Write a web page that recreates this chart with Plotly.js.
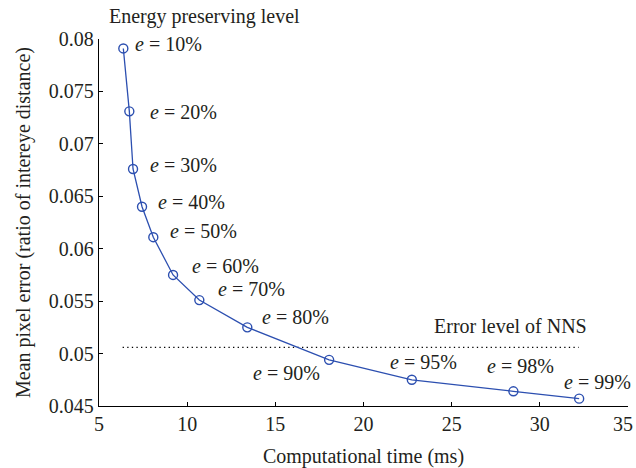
<!DOCTYPE html>
<html>
<head>
<meta charset="utf-8">
<script src="https://cdn.plot.ly/plotly-3.0.1.min.js"></script>
<style>html,body{margin:0;padding:0;background:#fff;}#chart{width:636px;height:468px;}</style>
</head>
<body>
<div id="chart"></div>
<script>
// Data
const energyLevels = ["10%", "20%", "30%", "40%", "50%", "60%", "70%", "80%", "90%", "95%", "98%", "99%"];
const timeMs = [6.38, 6.72, 6.93, 7.44, 8.08, 9.20, 10.69, 13.41, 18.05, 22.74, 28.50, 32.23];
const meanError = [0.0791, 0.0731, 0.0676, 0.0640, 0.0611, 0.0575, 0.0551, 0.0525, 0.0494, 0.0475, 0.0464, 0.0457];
const nnsLevel = 0.0506;
const nnsRange = [6.34, 32.2];
const xTicks = [5, 10, 15, 20, 25, 30, 35];
const yTicks = [0.045, 0.05, 0.055, 0.06, 0.065, 0.07, 0.075, 0.08];

// Label placement (pixel offsets from each point) -- styling only
const labelOffsets = [
  {dx: 10, dy: 4, anchor: "left"},
  {dx: 19, dy: -1, anchor: "left"},
  {dx: 15, dy: 4, anchor: "left"},
  {dx: 14, dy: 5, anchor: "left"},
  {dx: 15, dy: 6, anchor: "left"},
  {dx: 17, dy: 9, anchor: "left"},
  {dx: 17, dy: 11, anchor: "left"},
  {dx: 13, dy: 10, anchor: "left"},
  {dx: -7, dy: -13, anchor: "right"},
  {dx: -24, dy: 18, anchor: "left"},
  {dx: -28, dy: 25, anchor: "left"},
  {dx: -17, dy: 17, anchor: "left"}
];

const FONT = "Liberation Serif, Times New Roman, serif";
const FS = 20;
const TXT = "#231f20";
const BLUE = "#2c4fb0";

const traces = [
  {
    x: nnsRange, y: [nnsLevel, nnsLevel], mode: "lines",
    line: {color: "#000", width: 1.3, dash: "1.3px,3.3px"}, hoverinfo: "skip", showlegend: false
  },
  {
    x: timeMs, y: meanError, mode: "lines+markers",
    line: {color: BLUE, width: 1.3},
    marker: {symbol: "circle-open", size: 9, color: BLUE, line: {width: 1.4, color: BLUE}},
    showlegend: false
  }
];

const annotations = energyLevels.map((lv, i) => ({
  x: timeMs[i], y: meanError[i], xref: "x", yref: "y",
  text: "<i>e</i> = " + lv, showarrow: false,
  xanchor: labelOffsets[i].anchor, yanchor: "middle",
  xshift: labelOffsets[i].dx, yshift: labelOffsets[i].dy,
  font: {family: FONT, size: FS, color: TXT}
}));
annotations.push({
  xref: "paper", yref: "paper", x: 0.015, y: 1, xanchor: "left", yanchor: "bottom", yshift: 9,
  text: "Energy preserving level", showarrow: false, font: {family: FONT, size: FS, color: TXT}
});
annotations.push({
  xref: "paper", yref: "paper", x: 0.63, y: 0.218, xanchor: "left", yanchor: "middle",
  text: "Error level of NNS", showarrow: false, font: {family: FONT, size: FS, color: TXT}
});

// last x tick label drawn as an annotation kept inside the page edge
const lastX = xTicks[xTicks.length - 1];
annotations.push({
  xref: "x", yref: "paper", x: lastX, y: 0, xanchor: "right", yanchor: "top",
  xshift: 7, yshift: -5,
  text: String(lastX), showarrow: false, font: {family: FONT, size: FS, color: TXT}
});
const xTickText = xTicks.map((v, i) => i === xTicks.length - 1 ? "" : String(v));

const layout = {
  width: 636, height: 468,
  margin: {l: 99, r: 8, t: 39, b: 62},
  paper_bgcolor: "#fff", plot_bgcolor: "#fff",
  font: {family: FONT, size: FS, color: TXT},
  xaxis: {
    range: [5, 35], tickvals: xTicks, ticktext: xTickText,
    showline: true, linecolor: "#000", linewidth: 1.3, mirror: false,
    ticks: "inside", ticklen: 4, tickcolor: "#000", tickwidth: 1.2,
    ticklabeloverflow: "allow",
    showgrid: false, zeroline: false,
    title: {text: "Computational time (ms)", font: {family: FONT, size: FS}, standoff: 14}
  },
  yaxis: {
    range: [0.045, 0.08], tickvals: yTicks, ticktext: yTicks.map(v => String(v)),
    showline: true, linecolor: "#000", linewidth: 1.3, mirror: false,
    ticks: "inside", ticklen: 4, tickcolor: "#000", tickwidth: 1.2,
    ticklabeloverflow: "allow",
    showgrid: false, zeroline: false,
    title: {text: "Mean pixel error (ratio of intereye distance)", font: {family: FONT, size: FS}, standoff: 12}
  },
  annotations: annotations,
  showlegend: false
};

Plotly.newPlot("chart", traces, layout, {displayModeBar: false, staticPlot: true});
</script>
</body>
</html>
